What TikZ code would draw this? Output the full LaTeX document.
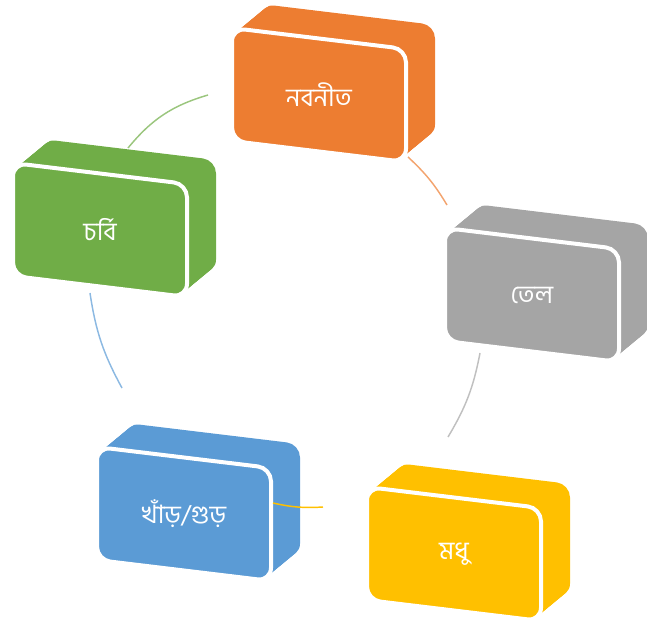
\documentclass[tikz,border=0pt]{standalone}
\usepackage{fontspec}
\newfontfamily\bnfont[Script=Bengali]{Hind Siliguri}
\definecolor{cOrange}{HTML}{ED7D31}
\definecolor{cGreen}{HTML}{70AD47}
\definecolor{cGrey}{HTML}{A5A5A5}
\definecolor{cBlue}{HTML}{5B9BD5}
\definecolor{cYellow}{HTML}{FFC000}
% one extruded block: name, x, y of the front face's top-left corner, colour, label
\newcommand\cyclebox[5]{%
  \begin{scope}[shift={(#2,#3)}]
    % depth: the front face swept back and up
    \foreach \k in {1,...,30}{%
      \fill[#4, rounded corners=10pt, shift={(\k*29/30,-\k*24/30)}]
        (0,0) -- (174,21) -- (174,134) -- (0,113) -- cycle;}
    % front face with its white rim
    \filldraw[fill=#4, draw=white, line width=3pt, rounded corners=10pt]
      (0,0) -- (174,21) -- (174,134) -- (0,113) -- cycle;
    \node[lbl] (#1) at (87,67) {#5};
  \end{scope}}
\begin{document}
\begin{tikzpicture}[x=0.75pt, y=-0.75pt,
  lbl/.style={text=white, inner sep=0pt, font=\bnfont\fontsize{19}{22}\selectfont},
  link/.style={line width=1.1pt}]
\useasboundingbox (0,0) rectangle (647,624);

\cyclebox{butter}{232}{28}{cOrange}{নবনীত}
\cyclebox{fat}{13}{163}{cGreen}{চর্বি}
\cyclebox{oil}{445}{228}{cGrey}{তেল}
\cyclebox{jaggery}{97}{447}{cBlue}{খাঁড়/গুড়}
\cyclebox{honey}{367}{487}{cYellow}{মধু}

% arcs of the cycle
\coordinate (ga) at (128,148); \coordinate (gb) at (208,95);
\coordinate (oa) at (408,157); \coordinate (ob) at (447,205);
\coordinate (ra) at (480,353); \coordinate (rb) at (448,437);
\coordinate (ya) at (323,507); \coordinate (yb) at (273,503);
\coordinate (ba) at (122,388); \coordinate (bb) at (90,293);
\draw[link, cGreen!70!white] (ga) to[bend left=17] (gb);
\draw[link, cOrange!70!white] (oa) to[bend left=8] (ob);
\draw[link, cGrey!70!white] (ra) to[bend left=10] (rb);
\draw[link, cYellow] (ya) to[bend left=8] (yb);
\draw[link, cBlue!70!white] (ba) to[bend left=10] (bb);
\end{tikzpicture}
\end{document}
